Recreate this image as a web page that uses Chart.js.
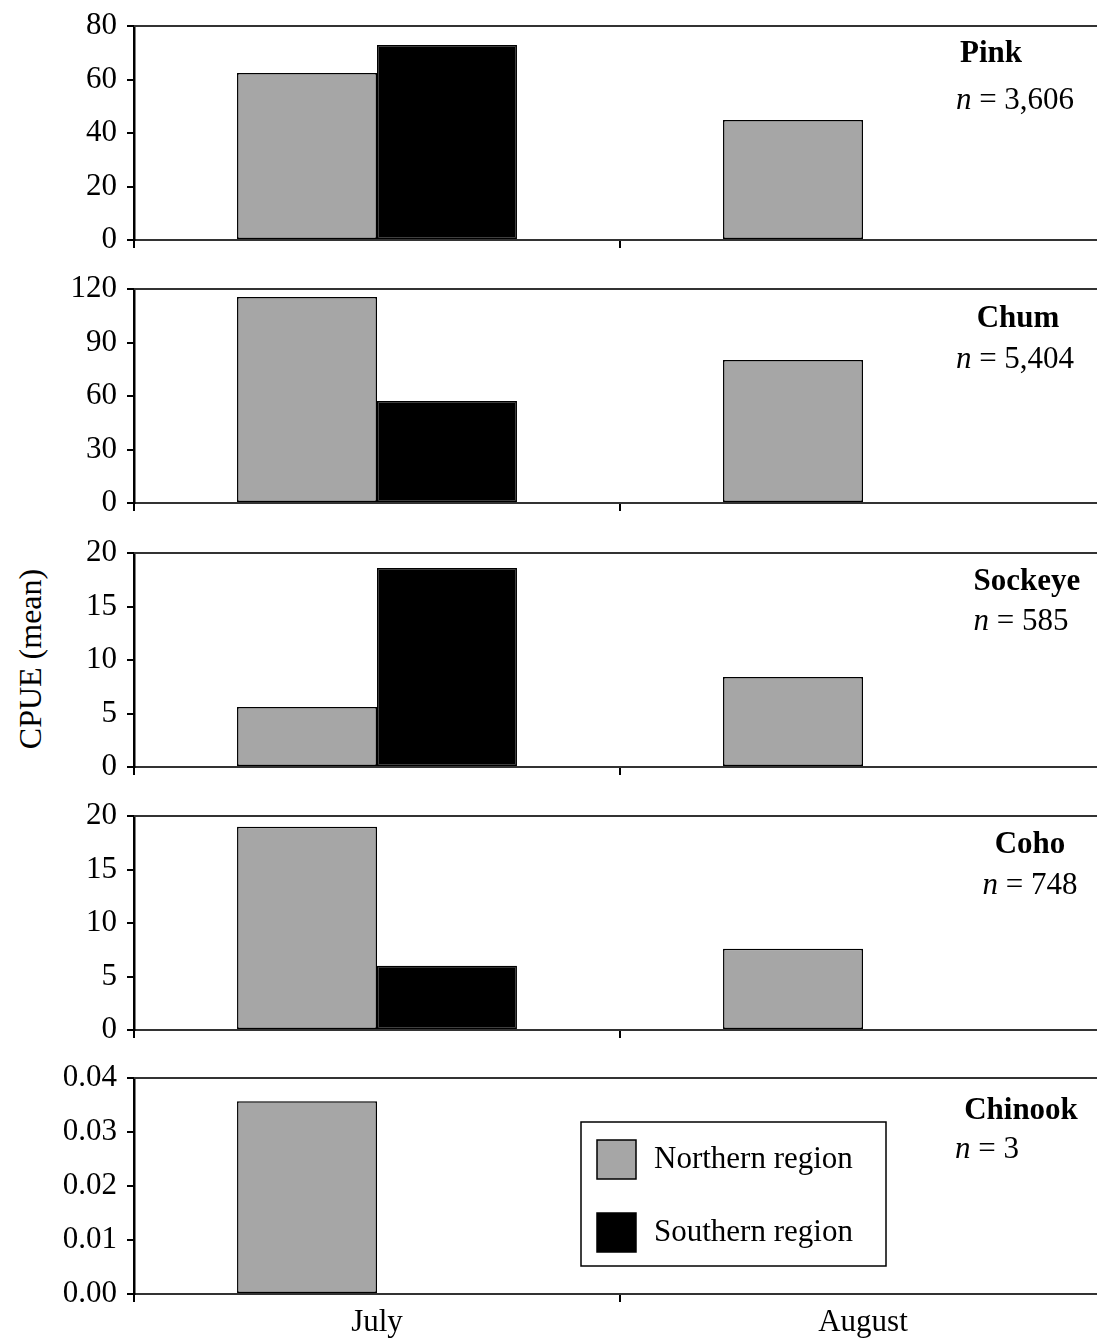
<!DOCTYPE html>
<html>
<head>
<meta charset="utf-8">
<script src="https://cdn.jsdelivr.net/npm/chart.js@4/dist/chart.umd.min.js"></script>
<style>
  html, body { margin: 0; padding: 0; background: #fff; overflow: hidden; }
  body { width: 1097px; height: 1340px; position: relative; }
  .panel { position: absolute; left: 0; }
  #yTitle {
    position: absolute; left: 30px; top: 659px;
    transform: translate(-50%, -50%) rotate(-90deg);
    font: 32px "Liberation Serif", serif; white-space: nowrap; color: #000;
  }
</style>
</head>
<body>
<div id="yTitle">CPUE (mean)</div>

<script>
// data
const months = ["July", "August"];
const seriesNames = ["Northern region", "Southern region"];

const species = ["Pink", "Chum", "Sockeye", "Coho", "Chinook"];
const sampleSizes = ["3,606", "5,404", "585", "748", "3"];

const pinkNorth = [62.4, 44.9];
const pinkSouth = [72.9, null];
const chumNorth = [115.5, 80.2];
const chumSouth = [57.2, null];
const sockeyeNorth = [5.6, 8.4];
const sockeyeSouth = [18.6, null];
const cohoNorth = [19.0, 7.6];
const cohoSouth = [6.0, null];
const chinookNorth = [0.0357, null];
const chinookSouth = [null, null];

const yMax = [80, 120, 20, 20, 0.04];
const yStep = [20, 30, 5, 5, 0.01];
const yDecimals = [0, 0, 0, 0, 2];

const northData = [pinkNorth, chumNorth, sockeyeNorth, cohoNorth, chinookNorth];
const southData = [pinkSouth, chumSouth, sockeyeSouth, cohoSouth, chinookSouth];

// layout: plot area top/bottom in page pixels, label anchors relative to plot top
const plotTop = [26, 289, 553, 816, 1078];
const plotBottom = [240, 503, 767, 1030, 1294];
const titleCenter = [[991, 28], [1018, 30], [1027, 29], [1030, 29], [1021, 33]];
const nCenter = [[1015, 75], [1015, 71], [1021, 69], [1030, 70], [987, 72]];

const FONT = '"Liberation Serif", serif';
const FS = 31;
const GRAY = "#a6a6a6";
// must exceed half a tick label + tick padding, otherwise chart.js pads more
const PAD_TOP = 32;

const panelDecor = {
    id: "panelDecor",
    afterDraw(chart, args, opts) {
        const ctx = chart.ctx;
        const area = chart.chartArea;
        ctx.save();
        // top frame line
        ctx.strokeStyle = "#333";
        ctx.lineWidth = 2;
        ctx.beginPath();
        ctx.moveTo(area.left, area.top);
        ctx.lineTo(area.right, area.top);
        ctx.stroke();

        // species name and n
        ctx.fillStyle = "#000";
        ctx.textBaseline = "middle";
        ctx.textAlign = "center";
        ctx.font = "bold " + FS + "px " + FONT;
        ctx.fillText(opts.title, opts.titlePos[0], area.top + opts.titlePos[1]);

        ctx.textAlign = "left";
        ctx.font = "italic " + FS + "px " + FONT;
        const wN = ctx.measureText("n").width;
        ctx.font = FS + "px " + FONT;
        const rest = " = " + opts.n;
        const wR = ctx.measureText(rest).width;
        const x0 = opts.nPos[0] - (wN + wR) / 2;
        const yN = area.top + opts.nPos[1];
        ctx.font = "italic " + FS + "px " + FONT;
        ctx.fillText("n", x0, yN);
        ctx.font = FS + "px " + FONT;
        ctx.fillText(rest, x0 + wN, yN);

        if (opts.legend) {
            const bx = 581, by = area.top + 44, bw = 305, bh = 144;
            ctx.fillStyle = "#fff";
            ctx.fillRect(bx, by, bw, bh);
            ctx.strokeStyle = "#000";
            ctx.lineWidth = 1.5;
            ctx.strokeRect(bx, by, bw, bh);
            const rows = [by + 38, by + 111];
            chart.data.datasets.forEach((ds, i) => {
                ctx.fillStyle = ds.backgroundColor;
                ctx.fillRect(bx + 16, rows[i] - 20, 39, 39);
                ctx.strokeStyle = "#000";
                ctx.lineWidth = 1.5;
                ctx.strokeRect(bx + 16, rows[i] - 20, 39, 39);
                ctx.fillStyle = "#000";
                ctx.font = FS + "px " + FONT;
                ctx.textAlign = "left";
                ctx.fillText(ds.label, bx + 73, rows[i]);
            });
        }
        ctx.restore();
    }
};

species.forEach((name, i) => {
    const last = i === species.length - 1;
    const xAxisH = last ? 50 : 32;
    const h = plotBottom[i] - plotTop[i] + PAD_TOP + xAxisH;

    const wrap = document.createElement("div");
    wrap.className = "panel";
    wrap.style.top = (plotTop[i] - PAD_TOP) + "px";
    const canvas = document.createElement("canvas");
    canvas.width = 1110;
    canvas.height = h;
    canvas.style.width = "1110px";
    canvas.style.height = h + "px";
    wrap.appendChild(canvas);
    document.body.appendChild(wrap);

    new Chart(canvas.getContext("2d"), {
        type: "bar",
        data: {
            labels: months,
            datasets: [
                {
                    label: seriesNames[0],
                    data: northData[i],
                    backgroundColor: GRAY,
                    borderColor: "#000",
                    borderWidth: 1.5,
                    borderSkipped: false
                },
                {
                    label: seriesNames[1],
                    data: southData[i],
                    backgroundColor: "#000",
                    borderColor: "#000",
                    borderWidth: 1.5,
                    borderSkipped: false
                }
            ]
        },
        options: {
            responsive: false,
            animation: false,
            devicePixelRatio: 1,
            categoryPercentage: 0.576,
            barPercentage: 1,
            layout: {
                autoPadding: false,
                padding: { top: PAD_TOP, right: 4, bottom: 0, left: 0 }
            },
            plugins: {
                legend: { display: false },
                tooltip: { enabled: false },
                panelDecor: {
                    title: name,
                    n: sampleSizes[i],
                    titlePos: titleCenter[i],
                    nPos: nCenter[i],
                    legend: last
                }
            },
            scales: {
                x: {
                    grid: {
                        drawOnChartArea: false,
                        drawTicks: true,
                        tickLength: 8,
                        color: "#000",
                        lineWidth: 2
                    },
                    border: { display: true, color: "#333", width: 2 },
                    ticks: {
                        display: last,
                        color: "#000",
                        padding: 2,
                        font: { family: FONT, size: FS }
                    },
                    afterFit(axis) { axis.height = xAxisH; }
                },
                y: {
                    min: 0,
                    max: yMax[i],
                    grid: {
                        drawOnChartArea: false,
                        drawTicks: true,
                        tickLength: 7,
                        color: "#000",
                        lineWidth: 2
                    },
                    border: { display: true, color: "#000", width: 2.5 },
                    ticks: {
                        stepSize: yStep[i],
                        color: "#000",
                        padding: 10,
                        font: { family: FONT, size: FS },
                        callback: (v) => Number(v).toFixed(yDecimals[i])
                    },
                    afterFit(axis) { axis.width = 134; }
                }
            }
        },
        plugins: [panelDecor]
    });
});
</script>
</body>
</html>
